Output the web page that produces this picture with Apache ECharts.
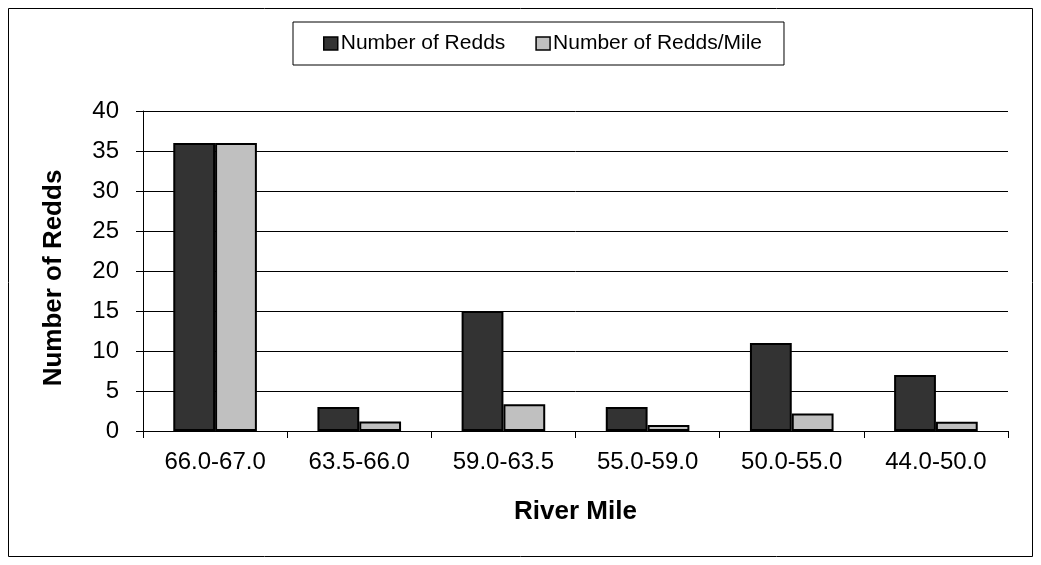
<!DOCTYPE html>
<html>
<head>
<meta charset="utf-8">
<script src="https://cdn.jsdelivr.net/npm/echarts@6/dist/echarts.min.js"></script>
<style>
  html, body { margin: 0; padding: 0; background: #fff; }
  #chart { width: 1041px; height: 565px; }
</style>
</head>
<body>
<div id="chart"></div>
<script>
// river mile segments
const segments = ['66.0-67.0', '63.5-66.0', '59.0-63.5', '55.0-59.0', '50.0-55.0', '44.0-50.0']
const redds = [36, 3, 15, 3, 11, 7]
const reddsPerMile = [36, 1.2, 3.33, 0.75, 2.2, 1.17]
const yTicks = [0, 5, 10, 15, 20, 25, 30, 35, 40]

const font = 'Liberation Sans, Arial, sans-serif'

const chart = echarts.init(document.getElementById('chart'))

const option = {
  animation: false,
  backgroundColor: '#fff',
  textStyle: { fontFamily: font, color: '#000' },
  graphic: [
    {
      type: 'rect',
      shape: { x: 8.5, y: 8.5, width: 1024, height: 548 },
      style: { fill: 'none', stroke: '#000', lineWidth: 1 },
      silent: true,
    },
  ],
  grid: {
    left: 143,
    right: 33,
    top: 111,
    bottom: 134,
    containLabel: false,
  },
  legend: {
    left: 293,
    top: 22,
    itemWidth: 14,
    itemHeight: 13,
    itemGap: 30,
    padding: [11, 22, 11, 30],
    borderColor: '#000',
    borderWidth: 1,
    icon: 'rect',
    itemStyle: { borderColor: '#000', borderWidth: 1.5 },
    textStyle: { fontFamily: font, fontSize: 21, color: '#000', padding: [0, 0, 0, -2] },
    data: ['Number of Redds', 'Number of Redds/Mile'],
  },
  xAxis: {
    type: 'category',
    data: segments,
    name: 'River Mile',
    nameLocation: 'middle',
    nameGap: 68,
    nameTextStyle: { fontFamily: font, fontSize: 26, fontWeight: 'bold', color: '#000' },
    axisLine: { lineStyle: { color: '#000', width: 1 } },
    axisTick: { show: true, length: 7, lineStyle: { color: '#000' } },
    axisLabel: { fontFamily: font, fontSize: 24, color: '#000', margin: 19 },
  },
  yAxis: {
    type: 'value',
    min: 0,
    max: 40,
    interval: 5,
    name: 'Number of Redds',
    nameLocation: 'middle',
    nameGap: 76,
    nameTextStyle: {
      fontFamily: font, fontSize: 26, fontWeight: 'bold', color: '#000',
      padding: [0, 14, 0, 0],
    },
    axisLine: { show: true, lineStyle: { color: '#000', width: 1 } },
    axisTick: { show: true, length: 7, lineStyle: { color: '#000' } },
    axisLabel: {
      fontFamily: font, fontSize: 24, color: '#000', margin: 24,
      formatter: v => (yTicks.includes(v) ? String(v) : ''),
    },
    splitLine: { show: true, lineStyle: { color: '#000', width: 1 } },
  },
  series: [
    {
      name: 'Number of Redds',
      type: 'bar',
      data: redds,
      barGap: '0%',
      barCategoryGap: '42%',
      itemStyle: { color: '#333333', borderColor: '#000', borderWidth: 2 },
    },
    {
      name: 'Number of Redds/Mile',
      type: 'bar',
      data: reddsPerMile,
      barGap: '0%',
      barCategoryGap: '42%',
      itemStyle: { color: '#c0c0c0', borderColor: '#000', borderWidth: 2 },
    },
  ],
}

chart.setOption(option)
</script>
</body>
</html>
